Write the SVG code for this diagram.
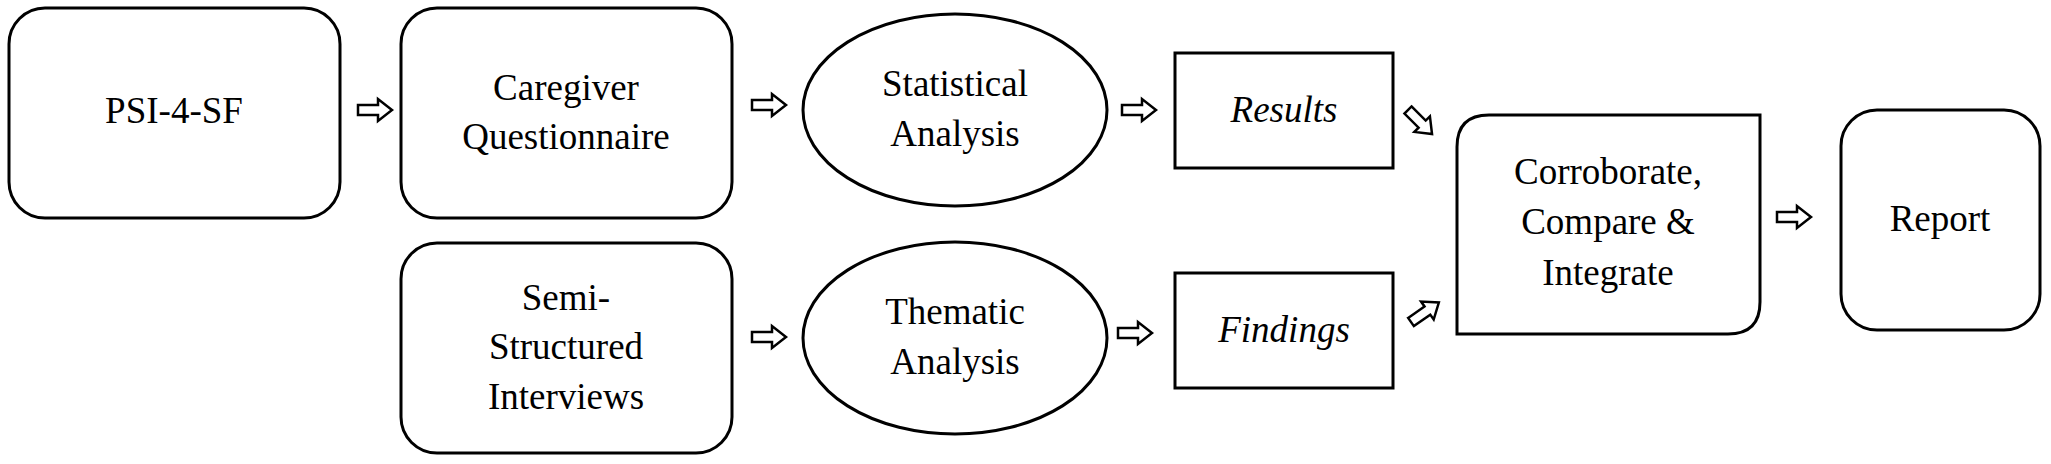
<svg xmlns="http://www.w3.org/2000/svg" width="2051" height="464" viewBox="0 0 2051 464">
<style>
.n{fill:#fff;stroke:#000;stroke-width:3}
.t{font-family:"Liberation Serif",serif;font-size:37px;fill:#000;text-anchor:middle}
.i{font-style:italic}
.a{fill:#fff;stroke:#000;stroke-width:2.5;stroke-linejoin:miter}
</style>
<defs>
<path id="arr" d="M0,-5 L20,-5 L20,-11 L34,0 L20,11 L20,5 L0,5 Z"/>
</defs>
<rect width="2051" height="464" fill="#fff"/>
<g id="psi"><rect class="n" x="9" y="8" width="331" height="210" rx="36"/><text class="t" x="174" y="123">PSI-4-SF</text></g>
<g id="caregiver"><rect class="n" x="401" y="8" width="331" height="210" rx="36"/><text class="t" x="566" y="100">Caregiver</text><text class="t" x="566" y="149">Questionnaire</text></g>
<g id="semi"><rect class="n" x="401" y="243" width="331" height="210" rx="36"/><text class="t" x="566" y="310">Semi-</text><text class="t" x="566" y="359">Structured</text><text class="t" x="566" y="409">Interviews</text></g>
<g id="statistical"><ellipse class="n" cx="955" cy="110" rx="152" ry="96"/><text class="t" x="955" y="96">Statistical</text><text class="t" x="955" y="146">Analysis</text></g>
<g id="thematic"><ellipse class="n" cx="955" cy="338" rx="152" ry="96"/><text class="t" x="955" y="324">Thematic</text><text class="t" x="955" y="374">Analysis</text></g>
<g id="results"><rect class="n" x="1175" y="53" width="218" height="115"/><text class="t i" x="1284" y="122">Results</text></g>
<g id="findings"><rect class="n" x="1175" y="273" width="218" height="115"/><text class="t i" x="1284" y="342">Findings</text></g>
<g id="corroborate"><path class="n" d="M1489,115 L1760,115 L1760,302 Q1760,334 1728,334 L1457,334 L1457,147 Q1457,115 1489,115 Z"/><text class="t" x="1608" y="184">Corroborate,</text><text class="t" x="1608" y="234">Compare &amp;</text><text class="t" x="1608" y="285">Integrate</text></g>
<g id="report"><rect class="n" x="1841" y="110" width="199" height="220" rx="36"/><text class="t" x="1940" y="231">Report</text></g>
<g id="connectors">
<use href="#arr" class="a" transform="translate(358,110)"/>
<use href="#arr" class="a" transform="translate(752,105)"/>
<use href="#arr" class="a" transform="translate(752,337)"/>
<use href="#arr" class="a" transform="translate(1122,110)"/>
<use href="#arr" class="a" transform="translate(1118,333)"/>
<use href="#arr" class="a" transform="translate(1408,110) rotate(45)"/>
<use href="#arr" class="a" transform="translate(1411,322) rotate(-35)"/>
<use href="#arr" class="a" transform="translate(1777,217)"/>
</g>
</svg>
